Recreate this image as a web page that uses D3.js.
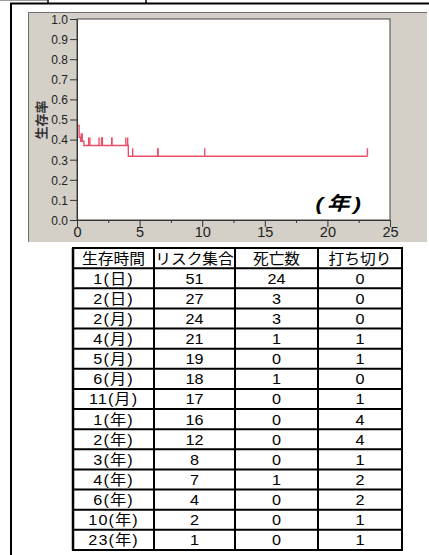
<!DOCTYPE html>
<html>
<head>
<meta charset="utf-8">
<script src="https://cdn.jsdelivr.net/npm/d3@7"></script>
<style>
  html, body { margin: 0; padding: 0; background: #fff; }
  svg { display: block; }
</style>
</head>
<body>
<svg id="chart" width="429" height="555"></svg>
<script>
// Life-table rows (interval label, number at risk, deaths, censored)
const rowLabels = ["1(日)", "2(日)", "2(月)", "4(月)", "5(月)", "6(月)", "11(月)",
                   "1(年)", "2(年)", "3(年)", "4(年)", "6(年)", "10(年)", "23(年)"];
const atRisk   = [51, 27, 24, 21, 19, 18, 17, 16, 12, 8, 7, 4, 2, 1];
const deaths   = [24, 3, 3, 1, 0, 1, 0, 0, 0, 0, 1, 0, 0, 0];
const censored = [0, 0, 0, 1, 1, 0, 1, 4, 4, 1, 2, 2, 1, 1];
// Time of each interval in years (where death steps occur)
const rowYears = [0.003, 0.006, 0.17, 0.30, 0.42, 0.55, 0.93, 1.0, 2.0, 3.0, 4.1, 6.0, 10.0, 23.0];
// Censoring times in years (one per censored subject)
const censorYears = [0.34, 0.42, 0.93, 1.03, 1.76, 1.96, 1.98, 2.01, 2.03, 2.77, 2.79,
                     3.9, 4.05, 4.45, 6.44, 6.47, 10.2, 23.2];
const headers = ["生存時間", "リスク集合", "死亡数", "打ち切り"];
const yTicks = [0, 0.1, 0.2, 0.3, 0.4, 0.5, 0.6, 0.7, 0.8, 0.9, 1.0];
const xTicks = [0, 5, 10, 15, 20, 25];
const xMinorTicks = [2.5, 7.5, 12.5, 17.5, 22.5];

const svg = d3.select("#chart");
const LATIN = "'Liberation Sans', Arial, 'Noto Sans CJK JP', sans-serif";
const CJK = "'Noto Sans CJK JP', 'Liberation Sans', sans-serif";

// ---- outer frame ----
svg.append("line").attr("x1", 0).attr("x2", 47).attr("y1", 0.5).attr("y2", 0.5)
  .attr("stroke", "#9a9a9a").attr("stroke-width", 1);
svg.append("line").attr("x1", 48).attr("x2", 48).attr("y1", 0).attr("y2", 3)
  .attr("stroke", "#000").attr("stroke-width", 1.5);
svg.append("line").attr("x1", 146).attr("x2", 146).attr("y1", 0).attr("y2", 3)
  .attr("stroke", "#000").attr("stroke-width", 1.5);
svg.append("line").attr("x1", 10).attr("x2", 429).attr("y1", 3.5).attr("y2", 3.5)
  .attr("stroke", "#000").attr("stroke-width", 2);
svg.append("line").attr("x1", 11).attr("x2", 11).attr("y1", 3).attr("y2", 555)
  .attr("stroke", "#000").attr("stroke-width", 2);

// ---- grey chart panel ----
const panel = { x: 28, y: 12, w: 399, h: 230 };
svg.append("rect").attr("x", panel.x).attr("y", panel.y)
  .attr("width", panel.w).attr("height", panel.h).attr("fill", "#d4d0c8");
svg.append("path")
  .attr("d", `M${panel.x + 0.5},${panel.y + panel.h} V${panel.y + 0.5} H${panel.x + panel.w}`)
  .attr("fill", "none").attr("stroke", "#707070").attr("stroke-width", 1);

// ---- scales ----
const x = d3.scaleLinear().domain([0, 25]).range([77, 390]);
const y = d3.scaleLinear().domain([0, 1]).range([220, 19]);

// plot area
svg.append("rect")
  .attr("x", x(0)).attr("y", y(1))
  .attr("width", x(25) - x(0)).attr("height", y(0) - y(1))
  .attr("fill", "#fff").attr("stroke", "#444").attr("stroke-width", 1);

svg.append("clipPath").attr("id", "plot-clip")
  .append("rect")
  .attr("x", x(0) + 0.5).attr("y", y(1))
  .attr("width", x(25) - x(0)).attr("height", y(0) - y(1));

// ---- Kaplan–Meier step curve from the life table ----
const steps = [{ t: 0, s: 1 }];
let surv = 1;
rowLabels.forEach((_, i) => {
  if (deaths[i] > 0) {
    surv = surv * (atRisk[i] - deaths[i]) / atRisk[i];
    steps.push({ t: rowYears[i], s: surv });
  }
});
steps.push({ t: d3.max(censorYears), s: surv });

function survivalAt(t) {
  let v = 1;
  steps.forEach(p => { if (p.t <= t) v = p.s; });
  return v;
}

const red = "#e8506a";
const curve = svg.append("g").attr("clip-path", "url(#plot-clip)");
const line = d3.line().x(d => x(d.t)).y(d => y(d.s)).curve(d3.curveStepAfter);
curve.append("path").datum(steps)
  .attr("d", line)
  .attr("fill", "none").attr("stroke", red).attr("stroke-width", 1.4);

curve.append("g").selectAll("line").data(censorYears).join("line")
  .attr("x1", d => x(d)).attr("x2", d => x(d))
  .attr("y1", d => y(survivalAt(d)))
  .attr("y2", d => y(survivalAt(d)) - 8)
  .attr("stroke", red).attr("stroke-width", 1.4);

// ---- axes ----
const yAxis = svg.append("g").attr("transform", `translate(${x(0)},0)`)
  .call(d3.axisLeft(y).tickValues(yTicks).tickSize(7).tickSizeOuter(0)
    .tickFormat(d3.format(".1f")));
yAxis.select(".domain").attr("stroke", "#333");
yAxis.selectAll(".tick line").attr("stroke", "#333");
yAxis.selectAll(".tick text").attr("x", -9).attr("dy", "0.36em")
  .attr("fill", "#222").style("font", `12px ${LATIN}`);

const xAxis = svg.append("g").attr("transform", `translate(0,${y(0)})`)
  .call(d3.axisBottom(x).tickValues(xTicks).tickSize(7).tickSizeOuter(0));
xAxis.select(".domain").attr("stroke", "#333");
xAxis.selectAll(".tick line").attr("stroke", "#333");
xAxis.selectAll(".tick text").attr("y", 7).attr("dy", "0.71em")
  .attr("fill", "#222").style("font", `14.5px ${LATIN}`);

const xMinor = svg.append("g").attr("transform", `translate(0,${y(0)})`)
  .call(d3.axisBottom(x).tickValues(xMinorTicks).tickSize(3).tickSizeOuter(0).tickFormat(""));
xMinor.select(".domain").remove();
xMinor.selectAll(".tick line").attr("stroke", "#333");

// axis titles
svg.append("text")
  .attr("transform", "translate(46,120) rotate(-90)")
  .attr("text-anchor", "middle")
  .attr("fill", "#333")
  .style("font", `bold 13px ${CJK}`)
  .text("生存率");

svg.append("text")
  .attr("transform", "translate(340,210) scale(1.2,1)")
  .attr("text-anchor", "middle")
  .attr("fill", "#000")
  .style("font", `italic bold 19px ${LATIN}`)
  .style("letter-spacing", "3px")
  .text("(年)");

// ---- life table ----
const colX = [73, 154, 235, 318, 402];
const tableTop = 248, rowH = 20.13;
const nRows = rowLabels.length + 1;
const tbl = svg.append("g");

const rowEdges = d3.range(nRows + 1).map(i => tableTop + i * rowH);
tbl.selectAll("line.h").data(rowEdges).join("line")
  .attr("x1", colX[0] - 1).attr("x2", colX[4] + 1)
  .attr("y1", d => d).attr("y2", d => d)
  .attr("stroke", "#000").attr("stroke-width", 2);
tbl.selectAll("line.v").data(colX).join("line")
  .attr("x1", d => d).attr("x2", d => d)
  .attr("y1", tableTop).attr("y2", rowEdges[nRows])
  .attr("stroke", "#000").attr("stroke-width", (d, i) => i === 0 ? 2.5 : 2);

const colCenter = i => (colX[i] + colX[i + 1]) / 2;

headers.forEach((h, i) => {
  tbl.append("text")
    .attr("transform", `translate(${colCenter(i)},${tableTop + rowH / 2 + 6}) scale(1.05,1)`)
    .attr("text-anchor", "middle").attr("fill", "#000")
    .style("font", `15px ${CJK}`)
    .text(h);
});

const columns = [rowLabels, atRisk, deaths, censored];
rowLabels.forEach((_, r) => {
  const cy = tableTop + (r + 1) * rowH + rowH / 2 + 5.5;
  columns.forEach((col, c) => {
    tbl.append("text")
      .attr("transform", `translate(${colCenter(c)},${cy}) scale(1.08,1)`)
      .attr("text-anchor", "middle").attr("fill", "#000")
      .style("font", `15px ${LATIN}`)
      .style("letter-spacing", c === 0 ? "1px" : "0px")
      .text(col[r]);
  });
});
</script>
</body>
</html>
